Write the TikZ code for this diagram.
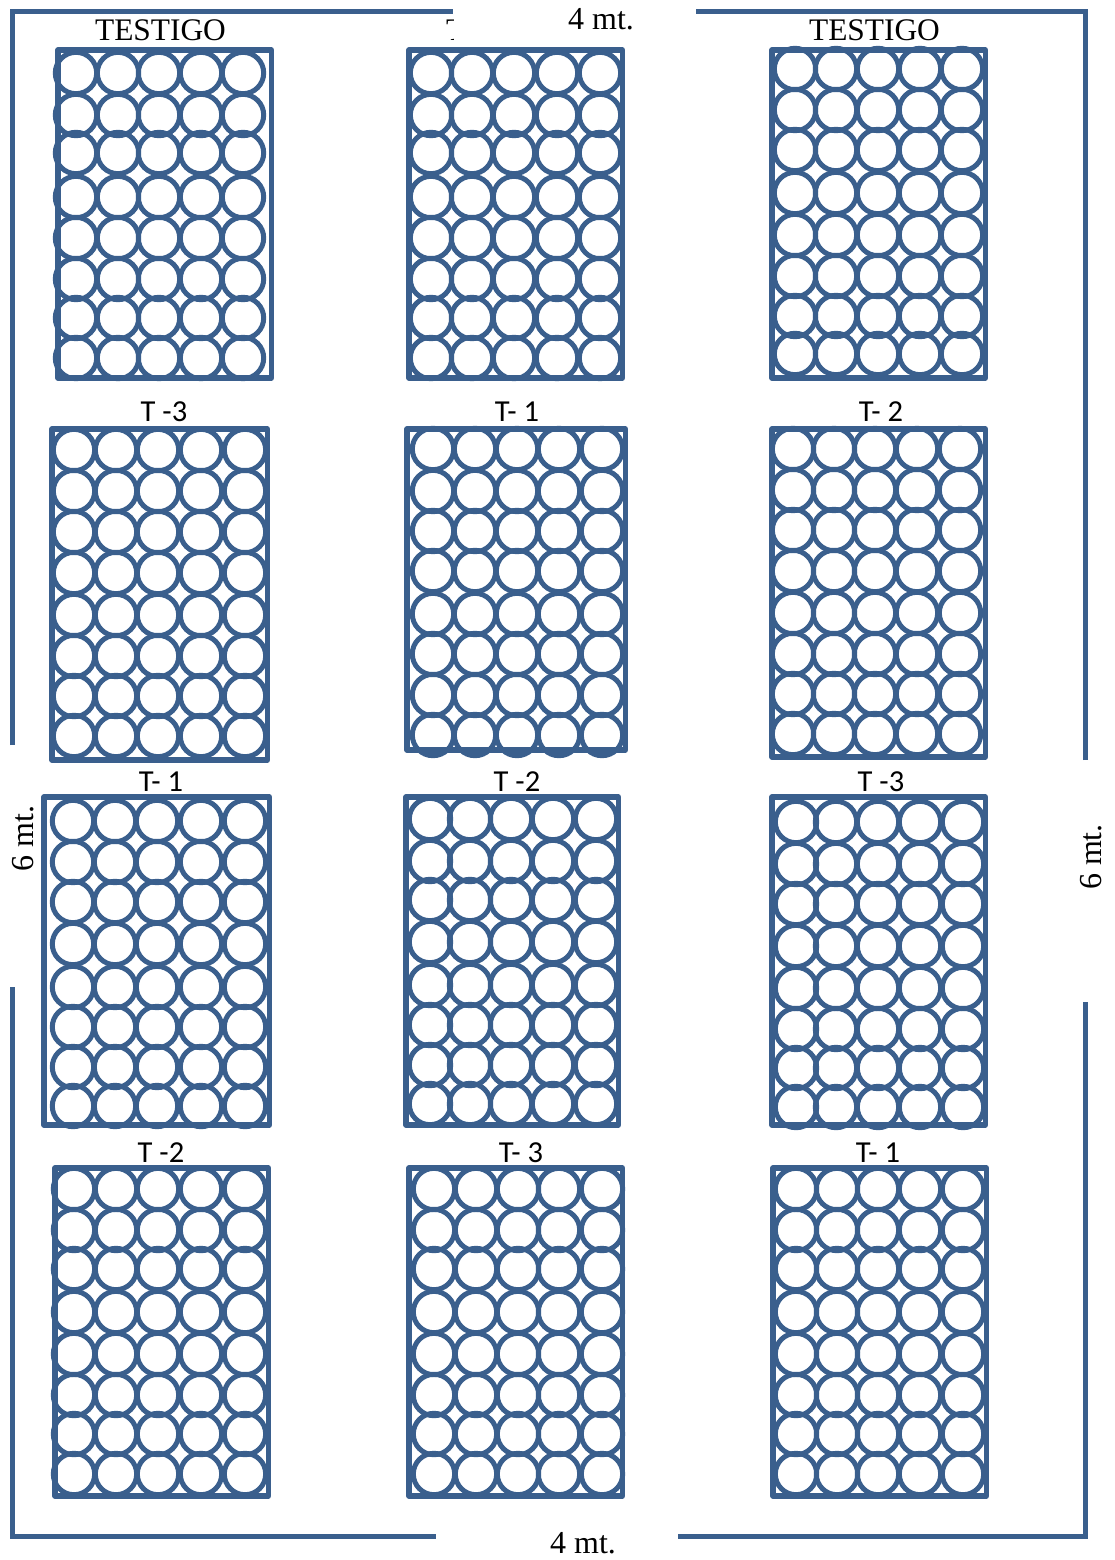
\documentclass[tikz,border=0pt]{standalone}
\usepackage{fontspec}
\setmainfont{Liberation Serif}
\newfontfamily\labelfont{Carlito}
\definecolor{plotblue}{HTML}{3A5F8D}
\tikzset{
  plantring/.style={draw=plotblue, line width=5pt},
  plotline/.style={draw=plotblue, line width=5.4pt, line join=round},
  frameline/.style={draw=plotblue, line width=5pt, line join=miter},
  sizelabel/.style={font=\fontsize{32}{34}\selectfont, text=black, inner sep=0pt},
  titlelabel/.style={font=\fontsize{31.4}{33}\selectfont, text=black, inner sep=0pt},
  plantlabel/.style={font=\labelfont\fontsize{30.5}{32}\selectfont, text=black, inner sep=0pt},
}
\begin{document}
\begin{tikzpicture}[x=1pt, y=-1pt]
  \useasboundingbox (0,0) rectangle (1115,1560);
  \def\plotbox#1#2#3#4{%
    \foreach \cy in {#4} {\foreach \cx in {#3} {\draw[plantring] (\cx,\cy) circle [radius=20.7pt];}}
    \draw[plotline] (#1) rectangle (#2);
  }
  % outer field
  \coordinate (fieldTL) at (12,745);
  \coordinate (fieldTLend) at (453,12);
  \coordinate (fieldTR) at (1085,760);
  \coordinate (fieldTRend) at (696,12);
  \coordinate (fieldBL) at (12,987);
  \coordinate (fieldBLend) at (436,1536);
  \coordinate (fieldBR) at (1085,1002);
  \coordinate (fieldBRend) at (678,1536);
  \draw[frameline] (fieldTL) |- (fieldTLend);
  \draw[frameline] (fieldTR) |- (fieldTRend);
  \draw[frameline] (fieldBL) |- (fieldBLend);
  \draw[frameline] (fieldBR) |- (fieldBRend);

  % first row
  \plotbox{58,50}{271.5,378}{76,118,159,201,243}{73,115,153,197,238,279,318,358}
  \plotbox{409,50}{622.5,378}{431,472,514,557,600}{73,115,153,197,238,279,318,358}
  \plotbox{772,50}{985.5,378}{795,836,878,920,962}{69,110,150,193,235,276,316,354}
  % second row
  \plotbox{52,429}{267.5,760}{74,116,158,201,245}{450,491,532,573,615,656,696,736}
  \plotbox{407,429}{625.5,750}{433,475,517,559,602}{449,491,531,571,614,654,695,735}
  \plotbox{772,429}{985.5,757}{793,834,875,917,960}{449,490,530,571,613,654,694,734}
  % third row
  \plotbox{44,797}{269.5,1125}{73,115,157,201,245}{821,862,902,944,987,1027,1067,1106}
  \plotbox{406,797}{618.5,1125}{430,470,511,553,596}{819,861,900,942,985,1025,1065,1104}
  \plotbox{772,797}{985.5,1125}{796,836,878,920,963}{822,864,904,946,988,1029,1068,1107}
  % fourth row
  \plotbox{55,1168}{268.5,1496}{74,116,158,201,245}{1189,1230,1269,1312,1354,1395,1434,1474}
  \plotbox{409,1168}{622.5,1496}{434,476,518,559,602}{1189,1230,1269,1312,1354,1395,1434,1474}
  \plotbox{773,1168}{986.5,1496}{796,837,878,920,963}{1189,1230,1269,1312,1354,1395,1434,1474}

  \node[titlelabel] (testigoa) at (160.5,30) {TESTIGO};
  \begin{scope}
    \clip (440,10) rectangle (453,48);
    \node[titlelabel, anchor=west] (testigob) at (446,30) {T};
  \end{scope}
  \node[titlelabel] (testigoc) at (874.5,30) {TESTIGO};

  \node[plantlabel] (labela) at (164,412) {T -3};
  \node[plantlabel] (labelb) at (517,412) {T- 1};
  \node[plantlabel] (labelc) at (881,412) {T- 2};
  \node[plantlabel] (labeld) at (161,782) {T- 1};
  \node[plantlabel] (labele) at (517,782) {T -2};
  \node[plantlabel] (labelf) at (881,782) {T -3};
  \node[plantlabel] (labelg) at (161,1153) {T -2};
  \node[plantlabel] (labelh) at (521,1153) {T- 3};
  \node[plantlabel] (labeli) at (878,1153) {T- 1};

  \node[sizelabel] (widthtop) at (601,19) {4 mt.};
  \node[sizelabel] (widthbot) at (583,1543) {4 mt.};
  \node[sizelabel, rotate=90] (heightl) at (23,838.5) {6 mt.};
  \node[sizelabel, rotate=90] (heightr) at (1091,857) {6 mt.};
\end{tikzpicture}
\end{document}
